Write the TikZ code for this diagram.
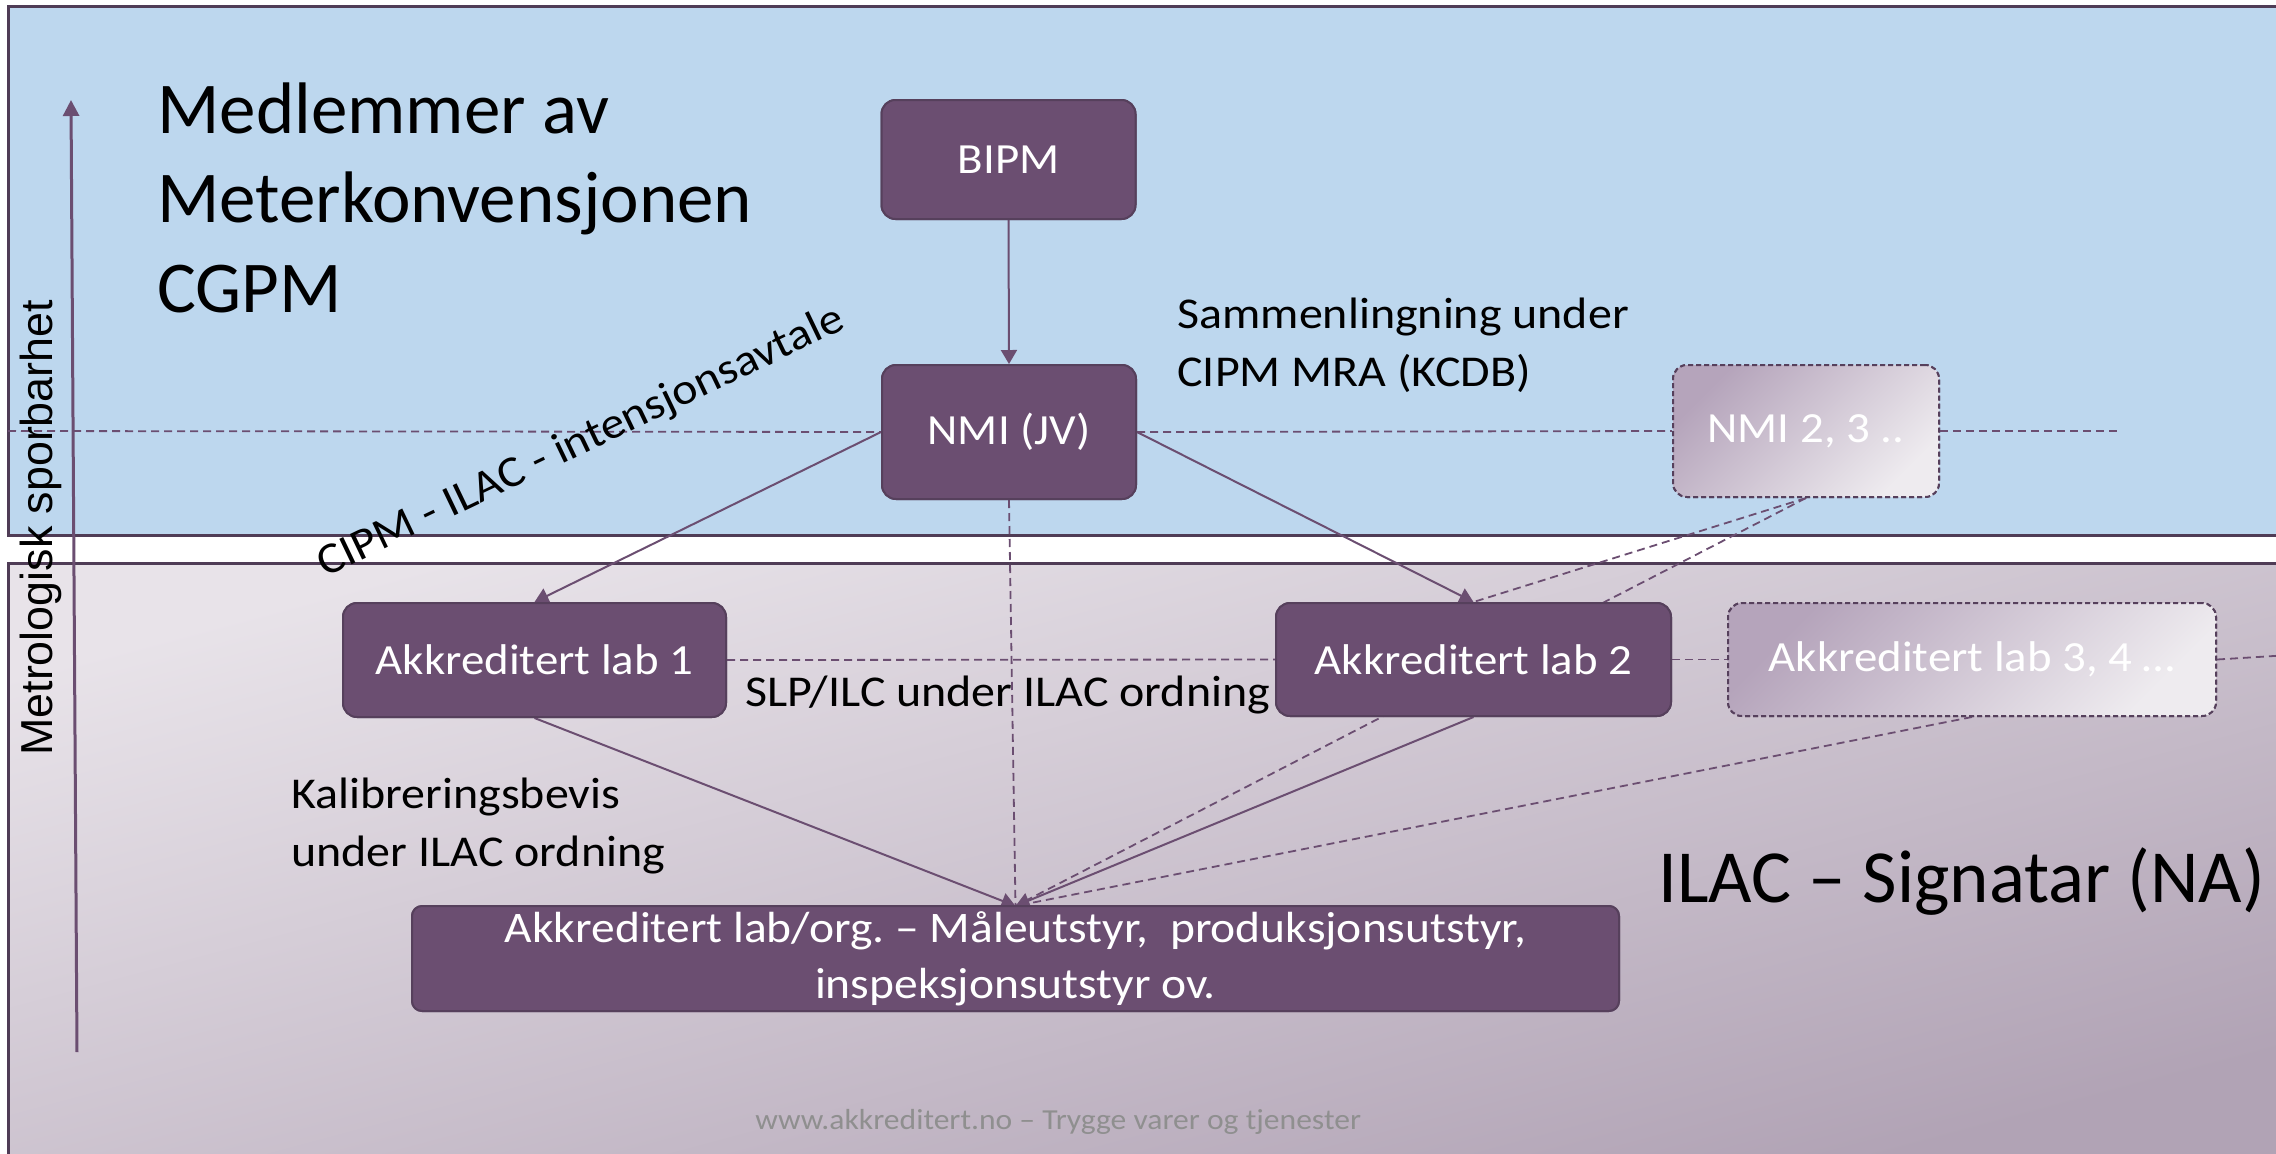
\documentclass[tikz,border=0pt]{standalone}
\usepackage{fontspec}
\setmainfont{Carlito}[FakeStretch=1.09]
\newfontfamily\plainfont{Carlito}
\newfontfamily\gothicfont{Liberation Sans}
\usetikzlibrary{arrows.meta,shadings}
\definecolor{panelblue}{HTML}{BDD7EE}
\definecolor{boxpurple}{HTML}{6B4E71}
\definecolor{boxborder}{HTML}{56405C}
\definecolor{panelborder}{HTML}{4F3C56}
\definecolor{linecol}{HTML}{6B4E71}
\definecolor{gradA}{HTML}{E8E3E9}
\definecolor{gradB}{HTML}{B1A3B5}
\definecolor{fadeA}{HTML}{B5A4BB}
\definecolor{fadeB}{HTML}{EEEBEF}
\definecolor{footgray}{HTML}{8F8F8F}
\frenchspacing
\begin{document}
\begin{tikzpicture}[x=0.5pt,y=-0.5pt,
  solidbox/.style={draw=boxborder, line width=1pt, fill=boxpurple, rounded corners=7pt,
    text=white, font=\fontsize{21.5}{27}\selectfont, inner sep=0pt},
  fadebox/.style={draw=boxborder, line width=1pt, dash pattern=on 2.5pt off 1.5pt, rounded corners=7pt,
    text=white, font=\fontsize{21.5}{27}\selectfont, inner sep=0pt,
    top color=fadeA, bottom color=fadeB, shading angle=45},
  conn/.style={draw=linecol, line width=1pt, -{Triangle[length=7pt,width=8pt]}},
  dconn/.style={draw=linecol, line width=0.9pt, dash pattern=on 4pt off 2.5pt},
  lbl/.style={font=\fontsize{22}{29}\selectfont, inner sep=0pt, align=left, anchor=base west}
]
\useasboundingbox (0,0) rectangle (2276,1153);
\begin{scope}
\clip (0,0) rectangle (2276,1153);
% panels
\path[fill=panelblue, draw=panelborder, line width=1.5pt] (8,6) rectangle (2310,535);
\path[top color=gradA, bottom color=gradB, shading angle=15, draw=panelborder, line width=1.5pt]
  (8,563) rectangle (2300,1160);

% nodes
\node[solidbox, minimum width=127pt, minimum height=59.5pt] (bipm) at (1008.5,159.5) {BIPM};
\node[solidbox, minimum width=127pt, minimum height=67pt] (nmi) at (1009,432) {NMI (JV)};
\node[fadebox, minimum width=133pt, minimum height=66pt] (nmi2) at (1806,431) {NMI 2, 3 ..};
\node[solidbox, minimum width=191.5pt, minimum height=57pt] (lab1) at (534.5,660) {Akkreditert lab 1};
\node[solidbox, minimum width=197.5pt, minimum height=56.5pt] (lab2) at (1473.5,659.5) {Akkreditert lab 2};
\node[fadebox, minimum width=244pt, minimum height=56.5pt] (lab3) at (1972,659.5) {Akkreditert lab 3, 4 …};
\node[solidbox, rounded corners=5pt, minimum width=603.5pt, minimum height=52.5pt, align=center,
  font=\fontsize{21.8}{28}\selectfont] (bottom) at (1015.5,958.5)
  {Akkreditert lab/org. – Måleutstyr,\ \ produksjonsutstyr,\\inspeksjonsutstyr ov.};

\coordinate (hl) at (8,431);
\coordinate (hr) at (2118,431);
\coordinate (lr) at (2290,655);
\coordinate (conv) at (1015.5,906);
\coordinate (axbot) at (77,1052);
\coordinate (axtop) at (71,100);

% connectors
\path[dconn] (hl) -- (nmi.west);
\path[dconn] (nmi.east) -- (nmi2.west);
\path[dconn] (nmi2.east) -- (hr);
\path[dconn] (lab1.east) -- (lab2.west);
\path[dconn] (lab2.east) -- (lab3.west);
\path[dconn] (lab3.east) -- (lr);
\path[dconn] (nmi.south) -- (conv);
\path[dconn] (nmi2.south) -- (lab2.north);
\path[dconn] (nmi2.south) -- (conv);
\path[dconn] (lab3.south) -- (conv);
\path[conn] (bipm.south) -- (nmi.north);
\path[conn] (nmi.west) -- (lab1.north);
\path[conn] (nmi.east) -- (lab2.north);
\path[conn] (lab1.south) -- (conv);
\path[conn] (lab2.south) -- (conv);
\path[draw=linecol, line width=1.5pt, -{Triangle[length=8pt,width=8pt]}] (axbot) -- (axtop);

% boxes redrawn on top of connectors
\node[solidbox, minimum width=127pt, minimum height=59.5pt] at (1008.5,159.5) {BIPM};
\node[solidbox, minimum width=127pt, minimum height=67pt] at (1009,432) {NMI (JV)};
\node[fadebox, minimum width=133pt, minimum height=66pt] at (1806,431) {NMI 2, 3 ..};
\node[solidbox, minimum width=191.5pt, minimum height=57pt] at (534.5,660) {Akkreditert lab 1};
\node[solidbox, minimum width=197.5pt, minimum height=56.5pt] at (1473.5,659.5) {Akkreditert lab 2};
\node[fadebox, minimum width=244pt, minimum height=56.5pt] at (1972,659.5) {Akkreditert lab 3, 4 …};
\node[solidbox, rounded corners=5pt, minimum width=603.5pt, minimum height=52.5pt, align=center,
  font=\fontsize{21.8}{28}\selectfont] at (1015.5,958.5)
  {Akkreditert lab/org. – Måleutstyr,\ \ produksjonsutstyr,\\inspeksjonsutstyr ov.};

% texts
\node[lbl, font=\plainfont\fontsize{36.5}{44.75}\selectfont] (title) at (157,312)
  {Medlemmer av\\Meterkonvensjonen\\CGPM};
\node[lbl] (samm) at (1177,386) {Sammenlingning under\\CIPM MRA (KCDB)};
\node[lbl] (slp) at (745,706) {SLP/ILC under ILAC ordning};
\node[lbl] (kal) at (291,866.5) {Kalibreringsbevis\\under ILAC ordning};
\node[lbl, font=\plainfont\fontsize{37.5}{44}\selectfont] (ilac) at (1658,902) {ILAC – Signatar (NA)};
\node[lbl, rotate=25.6] (cipm) at (325,578) {CIPM - ILAC - intensjonsavtale};
\node[lbl, font=\gothicfont\fontsize{22.4}{27}\selectfont, rotate=90] (metro) at (53,756) {Metrologisk sporbarhet};
\node[lbl, font=\fontsize{14.5}{18}\selectfont, text=footgray] (foot) at (755,1129)
  {www.akkreditert.no – Trygge varer og tjenester};
\end{scope}
\end{tikzpicture}
\end{document}
